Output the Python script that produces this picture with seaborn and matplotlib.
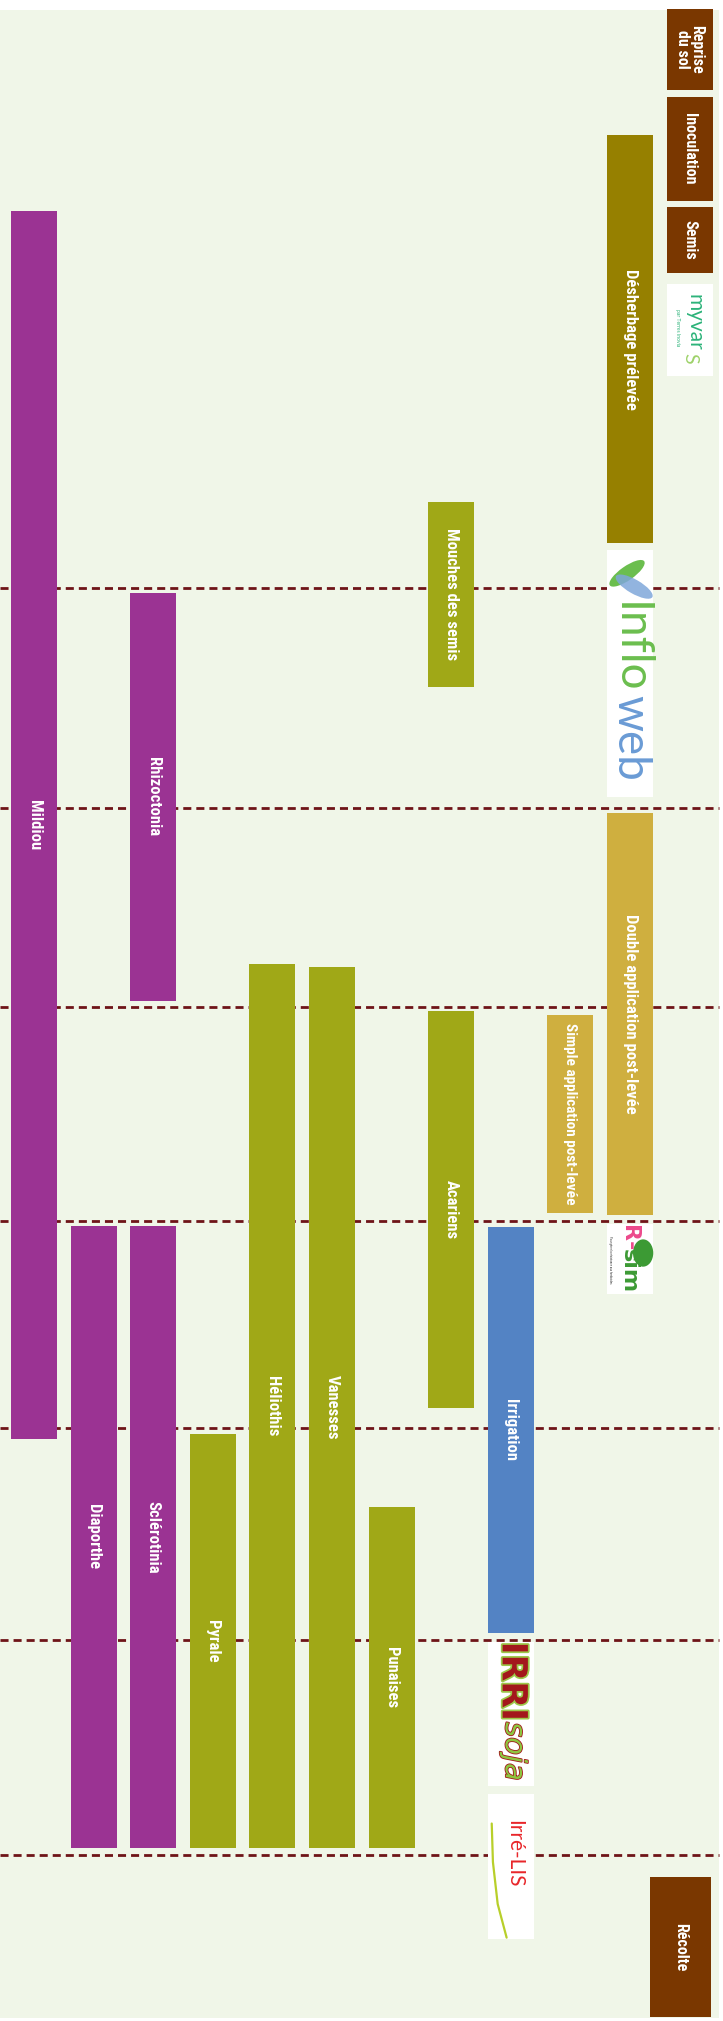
import matplotlib
matplotlib.use("Agg")
import matplotlib.pyplot as plt
import matplotlib.font_manager as fm
import matplotlib.patheffects as pe
import matplotlib.transforms as mtransforms
from matplotlib.patches import Rectangle, Ellipse
import seaborn as sns

sns.set_theme(style="white")

# Calendrier cultural du soja : couloirs (colonnes) et positions en jours de saison
taches = ["Mildiou", "Diaporthe", "Rhizoctonia", "Sclérotinia", "Pyrale", "Héliothis",
          "Vanesses", "Punaises", "Mouches des semis", "Acariens", "Irrigation",
          "Simple application post-levée", "Désherbage prélevée",
          "Double application post-levée", "Reprise\ndu sol", "Inoculation", "Semis", "Récolte"]
couloir = [0, 1, 2, 2, 3, 4, 5, 6, 7, 7, 8, 9, 10, 10, 11, 11, 11, 10.85]
debut = [30.1, 175.1, 84.7, 175.1, 204.9, 137.7, 138.1, 215.3, 71.7, 144.4, 175.3,
         145.0, 19.3, 116.1, 1.3, 13.9, 29.6, 268.1]
fin = [205.6, 264.0, 143.0, 264.0, 264.0, 264.0, 264.0, 264.0, 98.1, 201.1, 233.3,
       173.3, 77.6, 173.6, 12.9, 28.7, 39.0, 288.1]
groupe = ["maladie", "maladie", "maladie", "maladie", "ravageur", "ravageur", "ravageur",
          "ravageur", "ravageur", "ravageur", "irrigation", "post", "pre", "post",
          "travaux", "travaux", "travaux", "travaux"]

# limites de mois (lignes pointillées)
limites_mois = [84.0, 115.4, 143.9, 174.4, 204.0, 234.3, 265.0]

# outils d'aide à la décision (logos)
outils = ["myvar", "Inflo web", "R-sim", "IRRIsoja", "Irré-LIS"]
outil_couloir = [11, 10, 10, 8, 8]
outil_debut = [40.6, 78.6, 174.9, 234.6, 256.3]
outil_fin = [53.7, 113.9, 184.9, 255.1, 277.0]

couleurs = {"maladie": "#9B3393", "ravageur": "#A0A817", "irrigation": "#5383C4",
            "post": "#CFAF3F", "pre": "#968000", "travaux": "#7A3700"}
fond = "#F0F6E8"

noms = {f.name for f in fm.fontManager.ttflist}
police = "DejaVu Sans"
for p in ["Liberation Sans Narrow", "Roboto Condensed", "Open Sans Condensed", "Noto Sans Display"]:
    if p in noms:
        police = p
        break
etroit = police != "DejaVu Sans"
plt.rcParams["font.family"] = [police, "DejaVu Sans"]

fig = plt.figure(figsize=(7.23, 20.21), dpi=100, facecolor="white")
ax = fig.add_axes([0, 0, 1, 1])
ax.set_xlim(-0.5705, 11.5604)
ax.set_ylim(288.71, 0)
ax.axis("off")

# fond vert clair
ax.add_patch(Rectangle((-0.5705, 1.43), 12.064, 286.86, color=fond, zorder=0, lw=0))

ax.hlines(limites_mois, -0.5705, 11.493, colors="#6E1418", lw=2.0,
          linestyles=(0, (2.9, 1.8)), zorder=1)

largeur = [1.02 if t == "Récolte" else 0.772 for t in taches]
hauteur = [f - d for d, f in zip(debut, fin)]
ax.bar(couloir, hauteur, bottom=debut, width=largeur,
       color=[couleurs[g] for g in groupe], lw=0, zorder=2)

taille = 12 if etroit else 9
for t, c, d, f, g in zip(taches, couloir, debut, fin, groupe):
    fs = taille
    if g == "travaux":
        fs = taille - 0.5
    if t.startswith("Simple"):
        fs = taille - 1
    ax.text(c, (d + f) / 2, t, rotation=-90, ha="center", va="center", color="white",
            fontsize=fs, fontweight="bold", linespacing=0.95, zorder=3,
            fontstretch="condensed")

# logos sur fond blanc
for c, d, f in zip(outil_couloir, outil_debut, outil_fin):
    ax.add_patch(Rectangle((c - 0.386, d), 0.772, f - d, color="white", lw=0, zorder=2))

# myvar
ax.text(11.08, 46.0, "myvar", rotation=-90, ha="center", va="center", color="#2DB37A",
        fontsize=15, family="Lato", zorder=3)
ax.text(10.8, 46.8, "par Terres Inovia", rotation=-90, ha="center", va="center",
        color="#2DB37A", fontsize=3.6, family="Lato", zorder=3)
ax.text(11.0, 51.2, "S", rotation=-90, ha="center", va="center", color="#9ED26A",
        fontsize=14, family="Lato", zorder=3)

# Inflo web : deux feuilles inclinées
def feuille(x, y, angle, couleur, alpha=1.0):
    tr = fig.dpi_scale_trans + mtransforms.ScaledTranslation(x, y, ax.transData)
    ax.add_patch(Ellipse((0, 0), 0.42, 0.14, angle=angle, color=couleur, alpha=alpha,
                         lw=0, zorder=3, transform=tr))

feuille(9.95, 81.9, 35, "#6BBE4E")
feuille(10.07, 83.8, -30, "#7FA7DA", 0.85)
ax.text(10.0, 92.6, "Inflo", rotation=-90, ha="center", va="center", color="#6BBE4E",
        fontsize=33, family="Lato", zorder=3)
ax.text(10.0, 105.4, "web", rotation=-90, ha="center", va="center", color="#6A9BD5",
        fontsize=33, family="Lato", zorder=3)

# R-sim
ax.add_patch(Ellipse((10.22, 179.0), 0.34, 3.9, color="#3C9A34", lw=0, zorder=3))
ax.text(9.98, 176.9, "R-", rotation=-90, ha="center", va="center", color="#EC4A8C",
        fontsize=16, fontweight="bold", family="DejaVu Sans", zorder=4)
ax.text(9.98, 181.6, "sim", rotation=-90, ha="center", va="center", color="#3C9A34",
        fontsize=16, fontweight="bold", family="DejaVu Sans", zorder=4)
ax.text(9.66, 179.9, "Pour gérer la résistance aux herbicides", rotation=-90, ha="center",
        va="center", color="#333333", fontsize=2.2, zorder=4)

# IRRIsoja
ax.text(8.03, 240.2, "IRRI", rotation=-90, ha="center", va="center", color="#A3171C",
        fontsize=25, fontweight="bold", family="DejaVu Sans", zorder=4,
        path_effects=[pe.withStroke(linewidth=2.5, foreground="#9DC84A")])
ax.text(8.05, 250.2, "soja", rotation=-90, ha="center", va="center", color="#8DC63F",
        fontsize=21, fontstyle="italic", family="DejaVu Sans", zorder=4,
        path_effects=[pe.withStroke(linewidth=1.2, foreground="#A3171C")])

# Irré-LIS
ax.plot([7.68, 7.7, 7.78, 7.93], [260.5, 266.0, 272.0, 276.8], color="#B8CF2A",
        lw=1.6, zorder=3)
ax.text(8.05, 264.8, "Irré-LIS", rotation=-90, ha="center", va="center", color="#E8262A",
        fontsize=15, family="Lato", zorder=4)

fig.savefig("out.png", dpi=100, facecolor="white")
